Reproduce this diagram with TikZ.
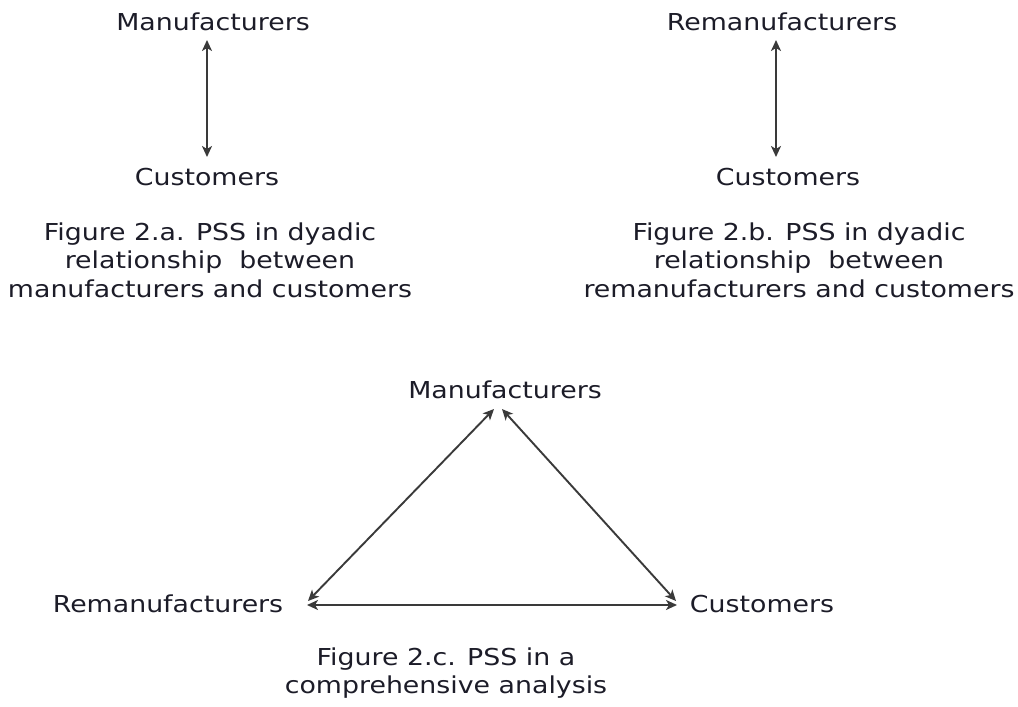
\documentclass[tikz,border=0pt]{standalone}
\usepackage{fontspec}
\setmainfont{DejaVu Sans}[FakeStretch=1.15]
\usetikzlibrary{arrows.meta}
\definecolor{txt}{HTML}{1C1C28}
\definecolor{ln}{HTML}{3A3A3A}
\begin{document}
\begin{tikzpicture}[x=1pt,y=-1pt,
  lbl/.style={text=txt,font=\fontsize{23.3}{28.5}\selectfont,inner sep=0pt,anchor=center},
  captext/.style={lbl,align=center},
  link/.style={draw=ln,line width=1.9pt,{Stealth[length=11pt,width=10pt,inset=3pt]}-{Stealth[length=11pt,width=10pt,inset=3pt]}}]
\useasboundingbox (0,0) rectangle (1018,707);
% figure a
\node[lbl] (ma) at (213,22) {Manufacturers};
\node[lbl] (ca) at (207,177) {Customers};
\coordinate (ma1) at (207,40);
\coordinate (ca1) at (207,157);
\draw[link] (ma1) -- (ca1);
\node[captext] (capa) at (210,260) {Figure 2.a. PSS in dyadic\\relationship\ \ between\\manufacturers and customers};
% figure b
\node[lbl] (rb) at (782,22) {Remanufacturers};
\node[lbl] (cb) at (788,177) {Customers};
\coordinate (rb1) at (776,40);
\coordinate (cb1) at (776,157);
\draw[link] (rb1) -- (cb1);
\node[captext] (capb) at (799,260) {Figure 2.b. PSS in dyadic\\relationship\ \ between\\remanufacturers and customers};
% figure c
\node[lbl] (mc) at (505,390) {Manufacturers};
\node[lbl] (rc) at (168,604) {Remanufacturers};
\node[lbl] (cc) at (762,604) {Customers};
\coordinate (apl) at (494,409);
\coordinate (apr) at (502,409);
\coordinate (bl) at (308,601);
\coordinate (br) at (676,601);
\coordinate (hl) at (307,605);
\coordinate (hr) at (677,605);
\draw[link] (apl) -- (bl);
\draw[link] (apr) -- (br);
\draw[link] (hl) -- (hr);
\node[captext] (capc) at (446,673) {Figure 2.c. PSS in a\\comprehensive analysis};
\end{tikzpicture}
\end{document}
